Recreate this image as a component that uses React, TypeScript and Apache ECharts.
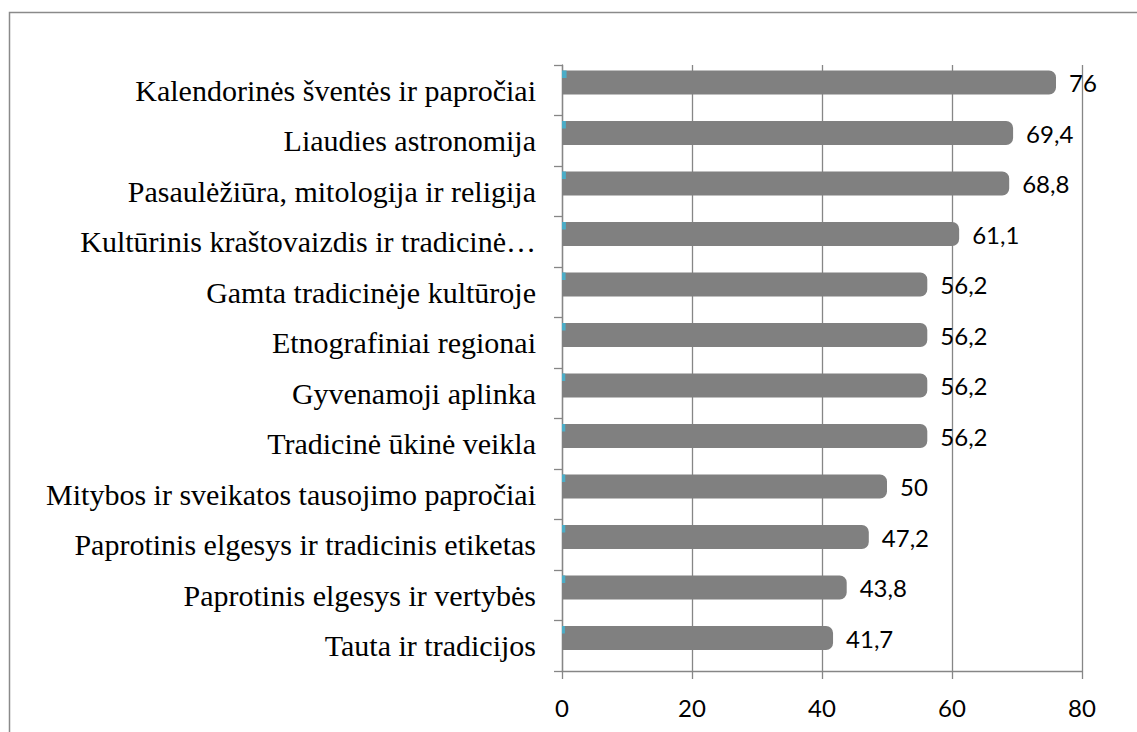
import React, { useEffect, useRef } from "react";
import * as echarts from "echarts";

const categories = [
  "Kalendorinės šventės ir papročiai",
  "Liaudies astronomija",
  "Pasaulėžiūra, mitologija ir religija",
  "Kultūrinis kraštovaizdis ir tradicinė…",
  "Gamta tradicinėje kultūroje",
  "Etnografiniai regionai",
  "Gyvenamoji aplinka",
  "Tradicinė ūkinė veikla",
  "Mitybos ir sveikatos tausojimo papročiai",
  "Paprotinis elgesys ir tradicinis etiketas",
  "Paprotinis elgesys ir vertybės",
  "Tauta ir tradicijos",
];
const mainValues = [76, 69.4, 68.8, 61.1, 56.2, 56.2, 56.2, 56.2, 50, 47.2, 43.8, 41.7];
const smallValues = [0.7, 0.6, 0.6, 0.6, 0.55, 0.55, 0.5, 0.5, 0.5, 0.5, 0.5, 0.45];
const xTicks = { min: 0, max: 80, interval: 20 };

const AXIS = "#868686";
const NUM_FONT = "Lato, 'Open Sans', sans-serif";

export default function App() {
  const ref = useRef<HTMLDivElement>(null);
  useEffect(() => {
    if (!ref.current) return;
    const chart = echarts.init(ref.current, null, { renderer: "svg" });
    const empty = categories.map(() => "-");
    const catAxisBase = {
      type: "category",
      data: categories,
      inverse: true,
    };
    chart.setOption({
      animation: false,
      backgroundColor: "#ffffff",
      grid: { left: 562, right: 55, top: 65, bottom: 61, containLabel: false },
      graphic: [
        {
          type: "rect",
          shape: { x: 9.5, y: 12.5, width: 1400, height: 1000 },
          style: { fill: "none", stroke: "#8a8a8a", lineWidth: 1.5 },
          silent: true,
          z: -1,
        },
      ],
      xAxis: {
        type: "value",
        min: xTicks.min,
        max: xTicks.max,
        interval: xTicks.interval,
        axisLine: { show: true, lineStyle: { color: AXIS, width: 1.3 } },
        axisTick: { show: true, length: 8, lineStyle: { color: AXIS, width: 1.3 } },
        splitLine: { show: true, lineStyle: { color: AXIS, width: 1.3 } },
        axisLabel: {
          margin: 24,
          color: "#000",
          fontFamily: NUM_FONT,
          fontSize: 24,
        },
      },
      yAxis: [
        {
          ...catAxisBase,
          axisLine: { show: true, lineStyle: { color: AXIS, width: 1.3 } },
          axisTick: { show: true, length: 8, lineStyle: { color: AXIS, width: 1.3 } },
          splitLine: { show: false },
          axisLabel: {
            margin: 26,
            color: "#000",
            fontFamily: "'Liberation Serif', 'Times New Roman', serif",
            fontSize: 30,
          },
        },
        {
          ...catAxisBase,
          show: false,
        },
      ],
      series: [
        {
          type: "bar",
          yAxisIndex: 0,
          data: mainValues,
          barWidth: 24,
          barGap: 0,
          itemStyle: {
            color: "#808080",
            borderRadius: [0, 7, 7, 0],
          },
          label: {
            show: true,
            position: "right",
            distance: 13,
            color: "#000",
            fontFamily: NUM_FONT,
            fontSize: 24,
            formatter: (p: any) => String(p.value).replace(".", ","),
          },
          z: 2,
        },
        {
          type: "bar",
          yAxisIndex: 0,
          data: empty,
          barWidth: 15.5,
          barGap: 0,
          itemStyle: { color: "transparent" },
          silent: true,
        },
        {
          type: "bar",
          yAxisIndex: 1,
          data: smallValues,
          barWidth: 7.5,
          barGap: 0,
          itemStyle: { color: "#4bacc6" },
          z: 3,
        },
        {
          type: "bar",
          yAxisIndex: 1,
          data: empty,
          barWidth: 32,
          barGap: 0,
          itemStyle: { color: "transparent" },
          silent: true,
        },
      ],
    });
    return () => chart.dispose();
  }, []);
  return (
    <div
      ref={ref}
      style={{ position: "fixed", left: 0, top: 0, width: 1137, height: 732, background: "#fff" }}
    />
  );
}
